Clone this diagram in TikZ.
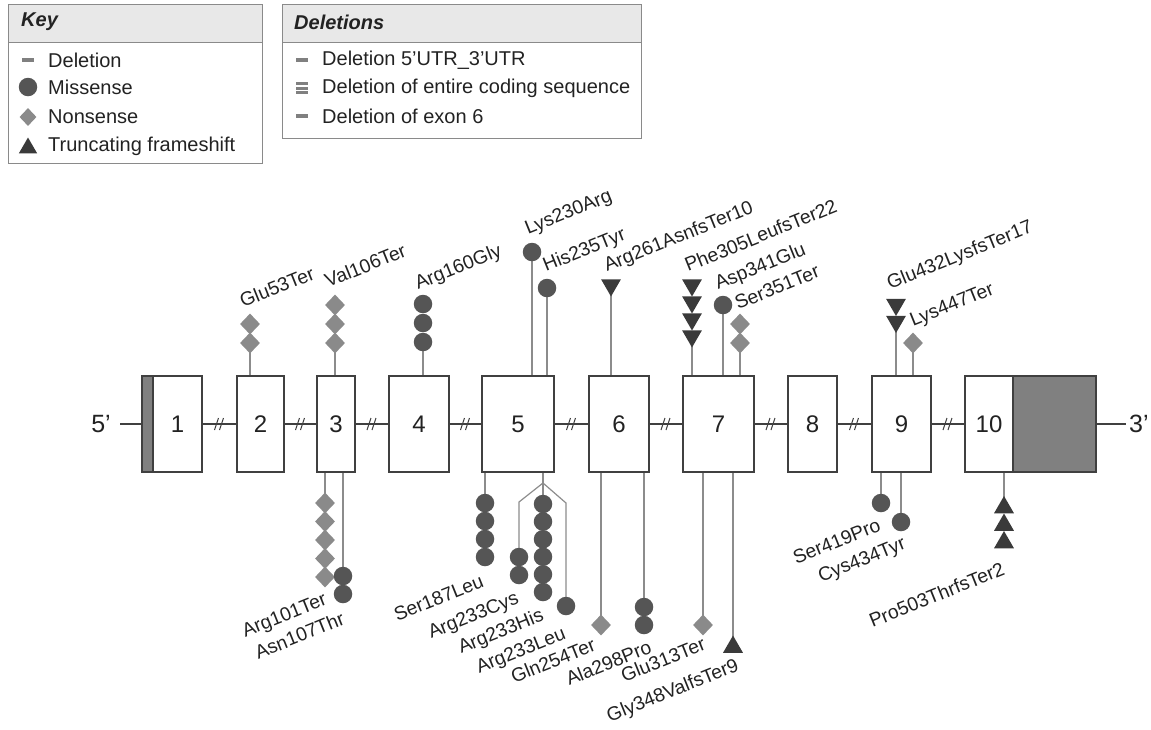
\documentclass[tikz,border=0pt]{standalone}
\usepackage{fontspec}
\setmainfont{Liberation Sans}
\usetikzlibrary{shapes.geometric,backgrounds}
\definecolor{boxline}{HTML}{404040}
\definecolor{utr}{HTML}{808080}
\definecolor{miscol}{HTML}{555555}
\definecolor{noncol}{HTML}{8A8A8A}
\definecolor{tricol}{HTML}{3A3A3A}
\definecolor{stemcol}{HTML}{8C8C8C}
\definecolor{hdr}{HTML}{E8E8E8}
\definecolor{keyline}{HTML}{8A8A8A}
\definecolor{txt}{HTML}{222222}
\begin{document}
\begin{tikzpicture}[x=1pt,y=-1pt,
  exon/.style={draw=boxline,line width=1.3pt,fill=white,minimum height=96pt,inner sep=0pt,text=txt,font=\fontsize{24}{26}\selectfont},
  utrbox/.style={draw=boxline,line width=1.3pt,fill=utr,minimum height=96pt,inner sep=0pt},
  mis/.style={circle,fill=miscol,minimum size=18.5pt,inner sep=0pt},
  non/.style={diamond,fill=noncol,minimum width=20pt,minimum height=21pt,inner sep=0pt},
  tdown/.style={regular polygon,regular polygon sides=3,shape border rotate=180,fill=tricol,minimum size=23pt,inner sep=0pt},
  tup/.style={regular polygon,regular polygon sides=3,fill=tricol,minimum size=23pt,inner sep=0pt},
  stem/.style={draw=stemcol,line width=1.2pt},
  gline/.style={draw=boxline,line width=1.3pt},
  brk/.style={draw=boxline,line width=1pt},
  lab/.style={font=\fontsize{19.3}{21}\selectfont,rotate=22,inner sep=0pt,text=txt},
  toplab/.style={lab,anchor=base west},
  botlab/.style={lab,anchor=base east},
  keytxt/.style={anchor=west,inner sep=0pt,text=txt,font=\fontsize{20}{22}\selectfont},
  keyhead/.style={anchor=west,inner sep=0pt,text=txt,font=\fontsize{20}{22}\selectfont\bfseries\itshape},
  panel/.style={draw=keyline,line width=1.2pt,anchor=north west,inner sep=0pt},
  delbar/.style={rectangle,fill=utr,minimum width=12pt,minimum height=4.5pt,inner sep=0pt},
  thinbar/.style={rectangle,fill=utr,minimum width=12pt,minimum height=3pt,inner sep=0pt},
  endlab/.style={inner sep=0pt,text=txt,font=\fontsize{25}{27}\selectfont}
]
\useasboundingbox (0,0) rectangle (1151,729);

% ---------- Key panel ----------
\node[panel,minimum width=254pt,minimum height=159pt] (keyb) at (8,4) {};
\node[panel,fill=hdr,minimum width=254pt,minimum height=38pt] (keyh) at (8,4) {};
\node[keyhead] (keyt) at (21,22) {Key};
\node[delbar] (kdi) at (28,60) {};
\node[keytxt] (kdt) at (48,60) {Deletion};
\node[mis] (kmi) at (28,87) {};
\node[keytxt] (kmt) at (48,87) {Missense};
\node[non,minimum width=17pt,minimum height=18pt] (kni) at (28,117) {};
\node[keytxt] (knt) at (48,117) {Nonsense};
\node[tup,minimum size=21pt] (kti) at (28,148) {};
\node[keytxt] (ktt) at (48,146) {Truncating frameshift};

% ---------- Deletions panel ----------
\node[panel,minimum width=359pt,minimum height=134pt] (delb) at (282,4) {};
\node[panel,fill=hdr,minimum width=359pt,minimum height=38pt] (delh) at (282,4) {};
\node[keyhead] (delt) at (294,22) {Deletions};
\node[delbar] (d1i) at (302,60) {};
\node[keytxt] (d1t) at (322,60) {Deletion 5’UTR\_3’UTR};
\node[thinbar] (d2a) at (302,83.5) {};
\node[thinbar] (d2b) at (302,88) {};
\node[thinbar] (d2c) at (302,92.5) {};
\node[keytxt] (d2t) at (322,88) {Deletion of entire coding sequence};
\node[delbar] (d3i) at (302,116) {};
\node[keytxt] (d3t) at (322,116) {Deletion of exon 6};

% ---------- Gene ----------
\node[utrbox,minimum width=11pt] (g1) at (147.5,424) {};
\node[exon,minimum width=49pt] (e1) at (177.5,424) {1};
\node[exon,minimum width=47pt] (e2) at (260.5,424) {2};
\node[exon,minimum width=38pt] (e3) at (336,424) {3};
\node[exon,minimum width=60pt] (e4) at (419,424) {4};
\node[exon,minimum width=72pt] (e5) at (518,424) {5};
\node[exon,minimum width=60pt] (e6) at (619,424) {6};
\node[exon,minimum width=71pt] (e7) at (718.5,424) {7};
\node[exon,minimum width=49pt] (e8) at (812.5,424) {8};
\node[exon,minimum width=59pt] (e9) at (901.5,424) {9};
\node[exon,minimum width=48pt] (e10) at (989,424) {10};
\node[utrbox,minimum width=83pt] (g10) at (1054.5,424) {};

\node[endlab,anchor=east] (p5) at (111,424) {5’};
\node[endlab,anchor=west] (p3) at (1129,424) {3’};

\draw[gline] ([xshift=9pt]p5.east) -- (g1.west);
\draw[gline] (g10.east) -- ([xshift=-3pt]p3.west);
\foreach \a/\b in {e1/e2,e2/e3,e3/e4,e4/e5,e5/e6,e6/e7,e7/e8,e8/e9,e9/e10}{
  \draw[gline] (\a.east) -- (\b.west) coordinate[midway] (m\a);
  \draw[brk] ([shift={(-5,6)}]m\a) -- ([shift={(-1,-6)}]m\a);
  \draw[brk] ([shift={(0,6)}]m\a) -- ([shift={(4,-6)}]m\a);
}

% ---------- top symbols ----------
\node[non] (a1) at (250,324) {};
\node[non] (a2) at (250,343) {};
\node[non] (b1) at (335,305) {};
\node[non] (b2) at (335,324) {};
\node[non] (b3) at (335,343) {};
\node[mis] (c1) at (423,304) {};
\node[mis] (c2) at (423,323) {};
\node[mis] (c3) at (423,342) {};
\node[mis] (d1) at (532,252) {};
\node[mis] (d2) at (547,288) {};
\node[tdown] (f1) at (611,285) {};
\node[tdown] (h1) at (692,285) {};
\node[tdown] (h2) at (692,302) {};
\node[tdown] (h3) at (692,319) {};
\node[tdown] (h4) at (692,336) {};
\node[mis] (h5) at (723,305) {};
\node[non] (h6) at (740,324) {};
\node[non] (h7) at (740,343) {};
\node[tdown] (k1) at (896,304.5) {};
\node[tdown] (k2) at (896,321.5) {};
\node[non] (k3) at (913,343) {};

% ---------- bottom symbols ----------
\node[non] (n1) at (325,503) {};
\node[non] (n2) at (325,521.5) {};
\node[non] (n3) at (325,540) {};
\node[non] (n4) at (325,558.5) {};
\node[non] (n5) at (325,577) {};
\node[mis] (n6) at (343,576) {};
\node[mis] (n7) at (343,594) {};
\node[mis] (q1) at (485,503) {};
\node[mis] (q2) at (485,521) {};
\node[mis] (q3) at (485,539) {};
\node[mis] (q4) at (485,557) {};
\node[mis] (r1) at (519,557) {};
\node[mis] (r2) at (519,575) {};
\node[mis] (s1) at (543,504) {};
\node[mis] (s2) at (543,521.6) {};
\node[mis] (s3) at (543,539.2) {};
\node[mis] (s4) at (543,556.8) {};
\node[mis] (s5) at (543,574.4) {};
\node[mis] (s6) at (543,592) {};
\node[mis] (t1) at (566,606) {};
\node[non] (u1) at (601,625) {};
\node[mis] (u2) at (644,607) {};
\node[mis] (u3) at (644,625) {};
\node[non] (v1) at (703,625) {};
\node[tup] (v2) at (733,647) {};
\node[mis] (w1) at (881,503) {};
\node[mis] (w2) at (901,522) {};
\node[tup] (z1) at (1004,507.5) {};
\node[tup] (z2) at (1004,525) {};
\node[tup] (z3) at (1004,542.5) {};

\coordinate (jn) at (543,483);
\coordinate (jl) at (519,502);
\coordinate (jr) at (566,503);

% ---------- stems ----------
\begin{scope}[on background layer]
  \draw[stem] (a2.center) -- (a2 |- e2.north);
  \draw[stem] (b3.center) -- (b3 |- e3.north);
  \draw[stem] (c3.center) -- (c3 |- e4.north);
  \draw[stem] (d1.center) -- (d1 |- e5.north);
  \draw[stem] (d2.center) -- (d2 |- e5.north);
  \draw[stem] (f1.center) -- (f1 |- e6.north);
  \draw[stem] (h4.center) -- (h4 |- e7.north);
  \draw[stem] (h5.center) -- (h5 |- e7.north);
  \draw[stem] (h7.center) -- (h7 |- e7.north);
  \draw[stem] (k2.center) -- (k2 |- e9.north);
  \draw[stem] (k3.center) -- (k3 |- e9.north);
  \draw[stem] (n1.center) -- (n1 |- e3.south);
  \draw[stem] (n6.center) -- (n6 |- e3.south);
  \draw[stem] (q1.center) -- (q1 |- e5.south);
  \draw[stem] (jn |- e5.south) -- (jn) -- (s1.center);
  \draw[stem] (jn) -- (jl) -- (r1.center);
  \draw[stem] (jn) -- (jr) -- (t1.center);
  \draw[stem] (u1.center) -- (u1 |- e6.south);
  \draw[stem] (u2.center) -- (u2 |- e6.south);
  \draw[stem] (v1.center) -- (v1 |- e7.south);
  \draw[stem] (v2.center) -- (v2 |- e7.south);
  \draw[stem] (w1.center) -- (w1 |- e9.south);
  \draw[stem] (w2.center) -- (w2 |- e9.south);
  \draw[stem] (z1.center) -- (z1 |- e10.south);
\end{scope}

% ---------- labels top ----------
\node[toplab] (la1) at (243,308) {Glu53Ter};
\node[toplab] (lb1) at (328,288) {Val106Ter};
\node[toplab] (lc1) at (418,290) {Arg160Gly};
\node[toplab] (ld1) at (528,235) {Lys230Arg};
\node[toplab] (ld2) at (546,272) {His235Tyr};
\node[toplab] (lf1) at (607,272) {Arg261AsnfsTer10};
\node[toplab] (lh1) at (688,272) {Phe305LeufsTer22};
\node[toplab] (lh5) at (718,290) {Asp341Glu};
\node[toplab] (lh6) at (738,310) {Ser351Ter};
\node[toplab] (lk1) at (890,290) {Glu432LysfsTer17};
\node[toplab] (lk3) at (913,327) {Lys447Ter};

% ---------- labels bottom ----------
\node[botlab] (ln1) at (328,604) {Arg101Ter};
\node[botlab] (ln6) at (346,624) {Asn107Thr};
\node[botlab] (lq1) at (485,586) {Ser187Leu};
\node[botlab] (lr1) at (520,603) {Arg233Cys};
\node[botlab] (ls1) at (545,620) {Arg233His};
\node[botlab] (lt1) at (567,638) {Arg233Leu};
\node[botlab] (lu1) at (597,650) {Gln254Ter};
\node[botlab] (lu2) at (653,652) {Ala298Pro};
\node[botlab] (lv1) at (707,649) {Glu313Ter};
\node[botlab] (lv2) at (740,670) {Gly348ValfsTer9};
\node[botlab] (lw1) at (882,530) {Ser419Pro};
\node[botlab] (lw2) at (907,548) {Cys434Tyr};
\node[botlab] (lz1) at (1006,574) {Pro503ThrfsTer2};
\end{tikzpicture}
\end{document}
